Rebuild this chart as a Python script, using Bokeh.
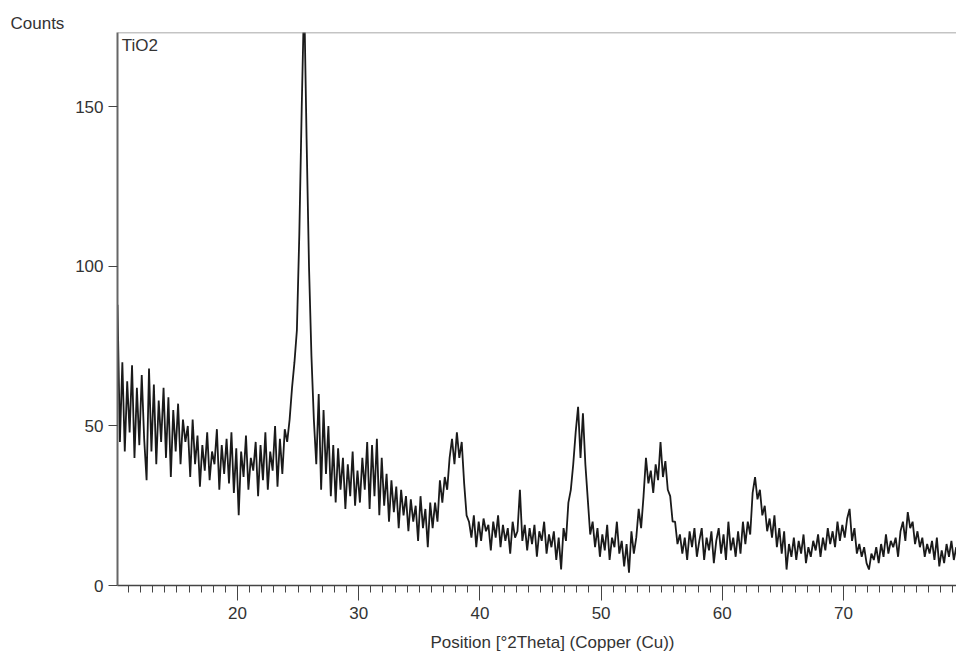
import numpy as np
from bokeh.plotting import figure
from bokeh.models import FixedTicker, Range1d, Label, Span, ColumnDataSource, Title
from bokeh.embed import file_html
from bokeh.resources import INLINE

# XRD pattern of TiO2, counts every 0.2 deg 2Theta
counts_10_16 = [88, 45, 70, 42, 64, 48, 69, 40, 62, 44,
                66, 46, 33, 68, 42, 63, 38, 58, 45, 62,
                40, 59, 34, 55, 42, 57, 38, 52, 45, 50]
counts_16_24 = [34, 52, 38, 47, 31, 44, 36, 48, 33, 42,
                38, 49, 30, 44, 35, 46, 32, 48, 29, 43,
                22, 42, 34, 47, 30, 40, 36, 45, 28, 44,
                33, 48, 30, 42, 36, 50, 31, 46, 35, 49]
counts_24_30 = [45, 52, 62, 70, 80, 110, 150, 185, 140, 100,
                72, 52, 38, 60, 30, 55, 35, 50, 28, 44,
                26, 43, 30, 40, 24, 38, 28, 42, 25, 36]
counts_30_40 = [26, 40, 30, 45, 24, 44, 28, 46, 22, 40,
                25, 35, 20, 33, 23, 31, 18, 30, 22, 28,
                17, 27, 20, 25, 14, 28, 18, 24, 12, 26,
                18, 26, 20, 33, 26, 34, 30, 40, 46, 38,
                48, 40, 45, 32, 22, 20, 15, 22, 12, 20]
counts_40_50 = [14, 21, 17, 19, 11, 20, 15, 22, 12, 19,
                14, 18, 10, 20, 15, 17, 30, 14, 19, 11,
                18, 13, 19, 9, 17, 14, 20, 10, 16, 12,
                17, 8, 15, 5, 18, 14, 26, 30, 38, 48,
                56, 40, 54, 38, 27, 16, 20, 12, 18, 9]
counts_50_60 = [16, 11, 19, 8, 15, 12, 20, 10, 14, 6,
                13, 4, 17, 10, 15, 24, 18, 28, 40, 32,
                36, 29, 38, 33, 45, 34, 39, 30, 28, 20,
                20, 13, 16, 10, 15, 8, 17, 12, 18, 9,
                14, 18, 8, 15, 11, 17, 7, 14, 18, 10]
counts_60_70 = [16, 8, 20, 11, 15, 9, 17, 10, 20, 13,
                20, 16, 29, 34, 27, 30, 22, 25, 17, 21,
                15, 22, 12, 18, 10, 17, 5, 13, 9, 15,
                8, 14, 10, 16, 7, 12, 9, 14, 11, 16,
                9, 15, 11, 18, 13, 17, 12, 20, 14, 19]
counts_70_80 = [15, 21, 24, 14, 18, 10, 13, 9, 12, 7,
                5, 10, 8, 12, 7, 13, 9, 16, 10, 14,
                12, 15, 9, 17, 20, 14, 23, 18, 20, 13,
                17, 12, 15, 9, 13, 10, 14, 8, 15, 6,
                11, 7, 13, 9, 14, 8, 12, 7, 10, 12]

scan_start = 10.1
scan_step = 0.2
x_major_ticks = [20, 30, 40, 50, 60, 70]
x_minor_ticks = list(range(11, 80))
y_ticks = [0, 50, 100, 150]

counts = (counts_10_16 + counts_16_24 + counts_24_30 + counts_30_40 +
          counts_40_50 + counts_50_60 + counts_60_70 + counts_70_80)
two_theta = np.round(scan_start + scan_step * np.arange(len(counts)), 2)

src = ColumnDataSource(dict(x=two_theta, y=counts))

FONT = "Liberation Sans"
TXT = "#333333"

p = figure(frame_width=839, frame_height=553,
           min_border_left=117, min_border_right=0,
           min_border_top=32, min_border_bottom=72,
           x_range=Range1d(10.1, 79.32), y_range=Range1d(0, 173.35),
           output_backend="svg", toolbar_location=None,
           background_fill_color="white", border_fill_color="white")
p.grid.visible = False
p.outline_line_color = None

p.line("x", "y", source=src, line_color="#1a1a1a", line_width=1.8)

xa = p.xaxis[0]
xa.ticker = FixedTicker(ticks=x_major_ticks, minor_ticks=x_minor_ticks)
xa.major_tick_in = 0
xa.major_tick_out = 15
xa.minor_tick_in = 0
xa.minor_tick_out = 7
xa.major_label_standoff = 6
xa.axis_line_color = "#444444"
xa.axis_line_width = 1.5
xa.major_tick_line_color = "#444444"
xa.minor_tick_line_color = "#444444"
xa.major_label_text_font = FONT
xa.major_label_text_font_size = "17px"
xa.major_label_text_color = TXT

ya = p.yaxis[0]
ya.ticker = FixedTicker(ticks=y_ticks)
ya.major_tick_in = 0
ya.major_tick_out = 9
ya.minor_tick_line_color = None
ya.major_label_standoff = 5
ya.axis_line_color = "#666666"
ya.axis_line_width = 2
ya.major_tick_line_color = "#444444"
ya.major_label_text_font = FONT
ya.major_label_text_font_size = "17px"
ya.major_label_text_color = TXT

p.add_layout(Span(location=173.35, dimension="width", line_color="#8a8a8a", line_width=1.5))

p.add_layout(Label(x=10.45, y=172.4, text="TiO2", text_font=FONT, text_font_size="17px",
                   text_color=TXT, text_baseline="top", text_align="left"))

p.add_layout(Title(text="Counts", align="left", offset=-107, standoff=0,
                   text_font=FONT, text_font_size="17px", text_font_style="normal",
                   text_color=TXT), "above")
p.add_layout(Title(text="Position [°2Theta] (Copper (Cu))", align="left", offset=313, standoff=18,
                   text_font=FONT, text_font_size="17px", text_font_style="normal",
                   text_color=TXT), "below")

open("out.html", "w").write(file_html(p, INLINE))
